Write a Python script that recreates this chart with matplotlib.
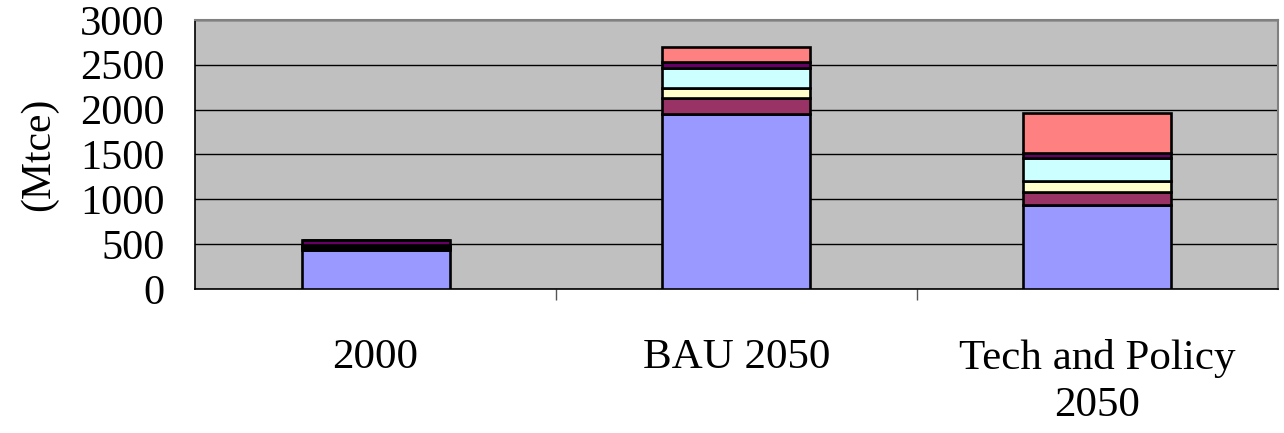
import numpy as np
import matplotlib
matplotlib.use("Agg")
import matplotlib.pyplot as plt

# energy demand by scenario, stacked by sector (Mtce)
categories = ["2000", "BAU 2050", "Tech and Policy\n2050"]
blue = [435, 1955, 930]
maroon = [20, 175, 150]
yellow = [10, 110, 120]
cyan = [20, 225, 260]
purple = [65, 60, 50]
pink = [0, 175, 455]

series = [blue, maroon, yellow, cyan, purple, pink]
colors = ["#9999FF", "#993366", "#FFFFCC", "#CCFFFF", "#660066", "#FF8080"]

plt.rcParams["font.family"] = ["Liberation Serif", "DejaVu Serif"]

fig = plt.figure(figsize=(12.84, 4.33), dpi=100)
ax = fig.add_axes([0.152, 0.333, 0.843, 0.621])
ax.set_facecolor("#C0C0C0")

x = np.arange(len(categories))
bottom = np.zeros(len(categories))
for vals, c in zip(series, colors):
    ax.bar(x, vals, bottom=bottom, width=0.41, color=c,
           edgecolor="black", linewidth=1.9, zorder=3)
    bottom += np.array(vals)

ax.set_ylim(0, 3000)
ax.set_xlim(-0.5, 2.5)
ax.set_yticks(np.arange(0, 3001, 500))
ax.yaxis.grid(True, color="black", linewidth=1.0, zorder=1)
ax.set_axisbelow(True)

ax.set_xticks(x)
ax.set_xticklabels(categories, fontsize=31, linespacing=1.3)
ax.set_xticks([0.5, 1.5], minor=True)
ax.tick_params(axis="x", which="major", length=0, pad=36)
ax.tick_params(axis="x", which="minor", length=8, width=1, color="#555555")
ax.tick_params(axis="y", length=0, pad=22, labelsize=30.5)

for s in ["top", "right"]:
    ax.spines[s].set_color("#808080")
    ax.spines[s].set_linewidth(1.5)
for s in ["left", "bottom"]:
    ax.spines[s].set_color("black")
    ax.spines[s].set_linewidth(1.2)

ax.set_ylabel("(Mtce)", fontsize=30, labelpad=16)

fig.savefig("out.png", dpi=100)
